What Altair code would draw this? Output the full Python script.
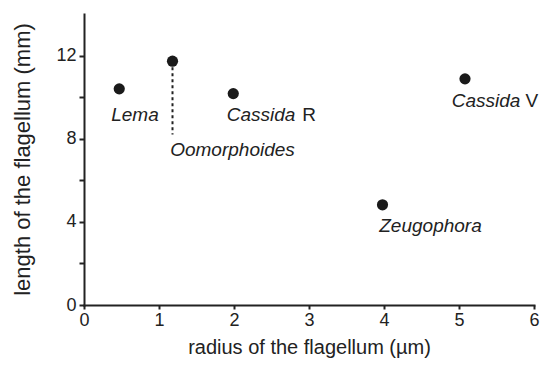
import altair as alt
import pandas as pd

genus = ["Lema", "Oomorphoides", "Cassida", "Cassida", "Zeugophora"]
suffix = ["", "", "R", "V", ""]
radius = [0.47, 1.18, 1.99, 5.08, 3.98]
length = [10.40, 11.73, 10.17, 10.88, 4.82]
label_x = [0.68, 1.98, 2.36, 5.36, 4.62]
label_y = [8.84, 7.16, 8.84, 9.53, 3.53]
suffix_x = [None, None, 3.0, 5.97, None]
line_x = [1.18]
line_y_top = [11.73]
line_y_bottom = [8.2]

df = pd.DataFrame({"genus": genus, "suffix": suffix, "radius": radius, "length": length,
                   "lx": label_x, "ly": label_y, "sx": suffix_x})
dline = pd.DataFrame({"x": line_x, "y": line_y_top, "y2": line_y_bottom})

FONT = "Liberation Sans"
INK = "#222222"
xs = alt.Scale(domain=[0, 6], nice=False)
ys = alt.Scale(domain=[0, 14], nice=False)

base = alt.Chart(df)

pts = base.mark_circle(size=125, color="#1a1a1a", opacity=1).encode(
    x=alt.X("radius:Q", scale=xs, title="radius of the flagellum (µm)",
            axis=alt.Axis(values=[0, 1, 2, 3, 4, 5, 6], format="d", grid=False, domainColor=INK,
                          domainWidth=2, tickColor=INK, tickWidth=2, tickSize=4,
                          labelFlush=False, labelFont=FONT, labelFontSize=18, labelColor=INK,
                          labelPadding=2,
                          titleFont=FONT, titleFontSize=20, titleFontWeight="normal",
                          titleColor=INK, titleX=225, titleY=42, titleBaseline="middle")),
    y=alt.Y("length:Q", scale=ys, title="length of the flagellum (mm)",
            axis=alt.Axis(values=[0, 2, 4, 6, 8, 10, 12], format="d", grid=False, domainColor=INK,
                          domainWidth=2, tickColor=INK, tickWidth=2, tickSize=5,
                          labelExpr="datum.value % 4 == 0 ? datum.label : ''",
                          labelFlush=False, labelFont=FONT, labelFontSize=18, labelColor=INK,
                          labelPadding=3,
                          titleFont=FONT, titleFontSize=22, titleFontWeight="normal",
                          titleColor=INK, titleX=-62, titleY=145, titleBaseline="middle")),
)

rule = alt.Chart(dline).mark_rule(color=INK, strokeWidth=2, strokeDash=[3, 3]).encode(
    x=alt.X("x:Q", scale=xs), y=alt.Y("y:Q", scale=ys), y2="y2:Q")

lbl = base.mark_text(font=FONT, fontSize=19, fontStyle="italic", align="center",
                     baseline="alphabetic", color=INK).encode(
    x=alt.X("lx:Q", scale=xs), y=alt.Y("ly:Q", scale=ys), text="genus:N")

suf = alt.Chart(df[df["suffix"] != ""]).mark_text(font=FONT, fontSize=19, align="center",
                                                   baseline="alphabetic", color=INK).encode(
    x=alt.X("sx:Q", scale=xs), y=alt.Y("ly:Q", scale=ys), text="suffix:N")

chart = alt.layer(rule, pts, lbl, suf).properties(
    width=450, height=291,
    autosize=alt.AutoSizeParams(type="none"),
    padding={"left": 76, "top": 6, "right": 6, "bottom": 55},
).configure_view(stroke=None).configure_axis(domainCap="square")

chart.save("out.html", embed_options={"renderer": "svg", "actions": False})
